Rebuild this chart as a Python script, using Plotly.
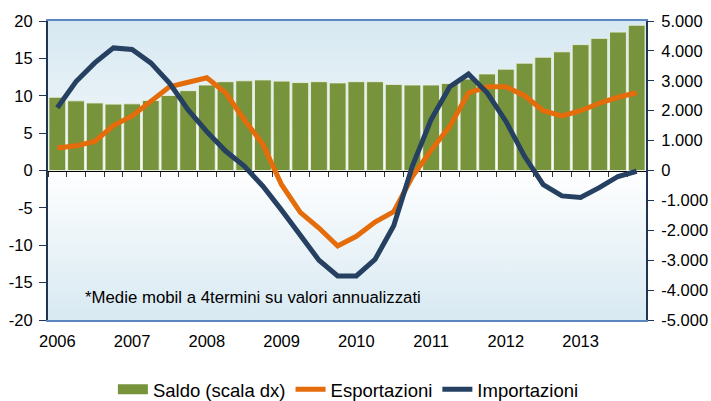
import base64
import plotly.graph_objects as go

# ---------------- data ----------------
years = ["2006", "2007", "2008", "2009", "2010", "2011", "2012", "2013"]
quarters = [f"{y}-T{q}" for y in years for q in (1, 2, 3, 4)]

saldo = [2450, 2330, 2260, 2220, 2230, 2340, 2510, 2670,
         2860, 2970, 3000, 3030, 2990, 2940, 2970, 2930,
         2970, 2970, 2880, 2860, 2860, 2910, 3060, 3230,
         3390, 3590, 3790, 3970, 4210, 4420, 4630, 4860]

esportazioni = [3.0, 3.3, 3.9, 6.0, 7.3, 9.2, 11.2, 11.8,
                12.4, 10.4, 6.8, 3.5, -1.9, -5.6, -7.7, -10.1,
                -8.8, -6.9, -5.5, -0.8, 2.7, 5.9, 10.4, 11.2,
                11.2, 10.0, 8.0, 7.3, 8.0, 9.0, 9.8, 10.4]

importazioni = [8.4, 11.9, 14.4, 16.4, 16.2, 14.4, 11.7, 8.1,
                5.2, 2.6, 0.6, -2.1, -5.3, -8.6, -12.0, -14.1,
                -14.1, -11.9, -7.4, 0.6, 6.8, 11.2, 12.9, 10.4,
                6.6, 1.9, -1.9, -3.4, -3.6, -2.3, -0.8, -0.1]

left_ticks = [-20, -15, -10, -5, 0, 5, 10, 15, 20]
left_labels = ["-20", "-15", "-10", "-5", "0", "5", "10", "15", "20"]
right_ticks = [-5000, -4000, -3000, -2000, -1000, 0, 1000, 2000, 3000, 4000, 5000]
right_labels = ["-5.000", "-4.000", "-3.000", "-2.000", "-1.000", "0",
                "1.000", "2.000", "3.000", "4.000", "5.000"]

note = "*Medie mobil a 4termini su valori annualizzati"

# ---------------- style ----------------
FONT = "Liberation Sans, Arial, sans-serif"
GREEN = "#77933c"
ORANGE = "#e46c0a"
NAVY = "#254061"
AXIS_DARK = "#1f3552"
BORDER_BLUE = "#5b86bf"

svg = (
    '<svg xmlns="http://www.w3.org/2000/svg" width="100" height="100" '
    'viewBox="0 0 1 1" preserveAspectRatio="none">'
    '<defs><linearGradient id="g" x1="0" y1="0" x2="0" y2="1">'
    '<stop offset="0" stop-color="#d6e8f1"/>'
    '<stop offset="0.28" stop-color="#e8f2f7"/>'
    '<stop offset="0.5" stop-color="#ffffff"/>'
    '<stop offset="0.72" stop-color="#edf5f9"/>'
    '<stop offset="1" stop-color="#d8e9f2"/>'
    '</linearGradient></defs>'
    '<rect x="0" y="0" width="1" height="1" fill="url(#g)"/></svg>'
)
svg_uri = "data:image/svg+xml;base64," + base64.b64encode(svg.encode()).decode()

fig = go.Figure()

fig.add_trace(go.Bar(
    x=quarters, y=saldo, name="Saldo (scala dx)",
    marker=dict(color=GREEN, line=dict(color="rgba(235,240,225,0.9)", width=1)),
    xaxis="x", yaxis="y", showlegend=False,
))
# legend-only swatch for the bars (wide rectangle like the original)
fig.add_trace(go.Scatter(
    x=[None], y=[None], mode="lines", name="Saldo (scala dx)",
    line=dict(color=GREEN, width=11), xaxis="x", yaxis="y",
))
fig.add_trace(go.Scatter(
    x=quarters, y=esportazioni, name="Esportazioni", mode="lines",
    line=dict(color=ORANGE, width=5), xaxis="x2", yaxis="y2",
))
fig.add_trace(go.Scatter(
    x=quarters, y=importazioni, name="Importazioni", mode="lines",
    line=dict(color=NAVY, width=5), xaxis="x2", yaxis="y2",
))

fig.update_layout(
    width=711, height=401,
    margin=dict(l=48, r=65, t=21, b=81, autoexpand=False),
    paper_bgcolor="white",
    plot_bgcolor="rgba(0,0,0,0)",
    font=dict(family=FONT, size=16, color="#000000"),
    bargap=0.1,
    showlegend=True,
    legend=dict(orientation="h", xref="container", yref="container",
                x=0.49, xanchor="center", y=0.028, yanchor="middle",
                font=dict(size=18.5, family=FONT), bgcolor="rgba(0,0,0,0)",
                itemwidth=30, traceorder="normal"),
    images=[dict(source=svg_uri, xref="paper", yref="paper", x=0, y=1,
                 sizex=1, sizey=1, xanchor="left", yanchor="top",
                 sizing="stretch", layer="below")],
    xaxis=dict(
        type="category", categoryorder="array", categoryarray=quarters,
        range=[-0.5, 31.5], tickmode="array", tickvals=quarters[::4], ticktext=years,
        ticks="", showgrid=False, zeroline=False,
        showline=True, mirror=True, linecolor=BORDER_BLUE, linewidth=1.5,
        tickfont=dict(size=16.5), ticklabelstandoff=5,
    ),
    xaxis2=dict(
        type="category", categoryorder="array", categoryarray=quarters,
        range=[-0.5, 31.5], overlaying="x", anchor="free", position=0.5, side="bottom",
        tickson="boundaries", ticks="outside", ticklen=5, tickwidth=1, tickcolor="#333333",
        showticklabels=False, showgrid=False, zeroline=False,
        showline=True, linecolor="#000000", linewidth=1, layer="below traces",
    ),
    yaxis=dict(
        side="right", range=[-5000, 5000], tickmode="array",
        tickvals=right_ticks, ticktext=right_labels,
        ticks="outside", ticklen=6, tickcolor=AXIS_DARK, tickwidth=1,
        showgrid=False, zeroline=False,
        showline=True, linecolor=AXIS_DARK, linewidth=2,
        tickfont=dict(size=16.5), ticklabelstandoff=4,
    ),
    yaxis2=dict(
        overlaying="y", side="left", anchor="x", range=[-20, 20], tickmode="array",
        tickvals=left_ticks, ticktext=left_labels,
        ticks="outside", ticklen=7, tickcolor=AXIS_DARK, tickwidth=1,
        showgrid=False, zeroline=False,
        showline=True, linecolor=AXIS_DARK, linewidth=2,
        tickfont=dict(size=16.5), ticklabelstandoff=3,
    ),
    annotations=[dict(
        text=note, xref="paper", yref="paper", x=0.0585, y=0.0736,
        xanchor="left", yanchor="middle", showarrow=False,
        font=dict(size=16.8, family=FONT, color="#000000"),
    )],
)

fig.write_html("out.html", config={"displayModeBar": False},
               post_script="document.body.style.margin='0';document.body.style.overflow='hidden';")
